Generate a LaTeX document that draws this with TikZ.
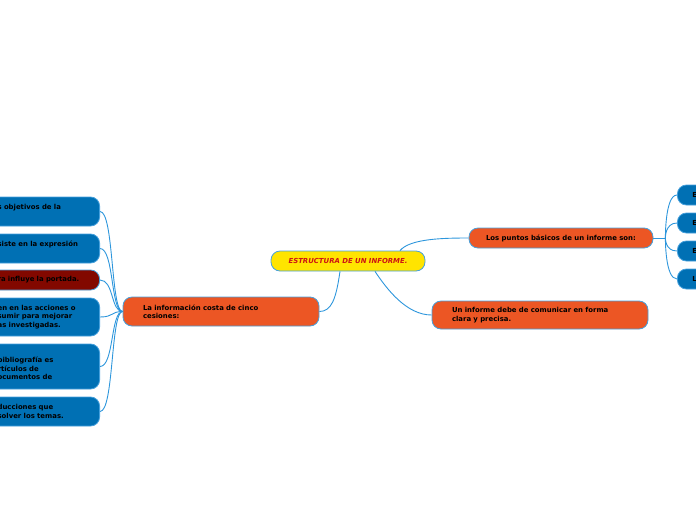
\documentclass[tikz,border=0pt]{standalone}
\usepackage{fontspec}
\setmainfont{DejaVu Sans}
\usetikzlibrary{positioning}

\definecolor{mapblue}{RGB}{0,112,180}
\definecolor{mapedge}{RGB}{70,160,220}
\definecolor{maplink}{RGB}{45,150,220}
\definecolor{maporange}{RGB}{236,86,36}
\definecolor{mapyellow}{RGB}{255,228,0}
\definecolor{mapred}{RGB}{130,8,0}
\definecolor{titlered}{RGB}{205,20,20}

\begin{document}
\begin{tikzpicture}
    [x=1pt,y=-1pt,
     box/.style={draw=mapedge,line width=0.8pt,rounded corners=9pt,
        font=\fontsize{6.9}{8.4}\selectfont\bfseries,text=black},
     topic/.style={box,fill=maporange},
     leftleaf/.style={box,fill=mapblue,anchor=east,text width=90pt,
        inner xsep=12pt,align=left},
     rightleaf/.style={box,fill=mapblue,anchor=west,text width=40pt,
        inner xsep=15pt,align=left,minimum height=20pt},
     link/.style={draw=maplink,line width=0.9pt}]
    \useasboundingbox (0,0) rectangle (696,520);
    \clip (0,0) rectangle (696,520);

    % main topic
    \node[box,fill=mapyellow,minimum width=154pt,minimum height=20pt,
        text=titlered,font=\fontsize{6.9}{8.4}\selectfont\bfseries\itshape]
        (root) at (348,261) {ESTRUCTURA DE UN INFORME.};

    % second level
    \node[topic,minimum width=184pt,minimum height=20pt] (basic) at (561,238)
        {Los puntos básicos de un informe son:};
    \node[topic,minimum width=216pt,minimum height=28pt,text width=176pt,
        align=left] (clear) at (540,315)
        {Un informe debe de comunicar en forma\\clara y precisa.};
    \node[topic,minimum width=196pt,minimum height=29pt,text width=156pt,
        align=left] (info) at (221,311.5)
        {La información costa de cinco\\cesiones:};

    % left leaves
    \node[leftleaf,minimum height=29pt,text depth=9pt] (sec1) at (100,211.5)
        {s objetivos de la};
    \node[leftleaf,minimum height=29pt,text depth=9pt] (sec2) at (100,248.5)
        {siste en la expresión};
    \node[leftleaf,fill=mapred,minimum height=20pt] (sec3) at (100,280)
        {ra influye la portada.};
    \node[leftleaf,minimum height=38pt] (sec4) at (100,317)
        {en en las acciones o\\sumir para mejorar\\as investigadas.};
    \node[leftleaf,minimum height=45pt,text depth=13pt] (sec5) at (100,366.5)
        {bibliografía es\\rtículos de\\ocumentos de};
    \node[leftleaf,minimum height=29pt] (sec6) at (100,411.5)
        {ducciones que\\solver los temas.};

    % right leaves
    \node[rightleaf] (pt1) at (677,195) {E};
    \node[rightleaf] (pt2) at (677,223) {E};
    \node[rightleaf] (pt3) at (677,251) {E};
    \node[rightleaf] (pt4) at (677,279) {L};

    % connectors
    \draw[link] ([xshift=52pt]root.north) .. controls +(10,-12) and +(-25,0) .. (basic.west);
    \draw[link] ([xshift=27pt]root.south) .. controls +(12,18) and +(-25,0) .. (clear.west);
    \draw[link] ([xshift=-8pt]root.south) .. controls +(-4,28) and +(12,0) .. (info.east);
    \foreach \n in {sec1,sec2,sec3,sec4,sec5,sec6}
        \draw[link] (info.west) .. controls +(-12,0) and +(14,0) .. (\n.east);
    \coordinate (hub) at ([xshift=12pt]basic.east);
    \draw[link] (basic.east) -- (hub);
    \foreach \n in {pt1,pt2,pt3,pt4}
        \draw[link] (hub) .. controls +(0,0) and +(-12,0) .. (\n.west);
\end{tikzpicture}
\end{document}
